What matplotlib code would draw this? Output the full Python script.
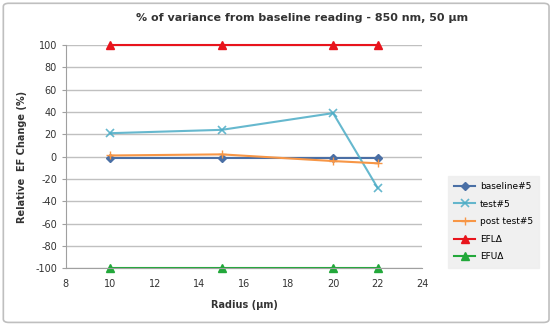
import numpy as np
import matplotlib.pyplot as plt
from matplotlib.patches import FancyBboxPatch

plt.rcParams['axes.unicode_minus'] = False

radius = [10, 15, 20, 22]
baseline = [-1, -1, -1, -1]
test = [21, 24, 39, -28]
post_test = [1, 2, -4, -6]
efl = [100, 100, 100, 100]
efu = [-100, -100, -100, -100]

fig = plt.figure(figsize=(5.54, 3.29), dpi=100)
border = FancyBboxPatch((0.006, 0.02), 0.985, 0.97, boxstyle="round,pad=0,rounding_size=0.01",
                        transform=fig.transFigure, fc='white', ec='#bfbfbf', lw=1.2, zorder=-10)
fig.patches.append(border)
ax = fig.add_axes([0.119, 0.185, 0.643, 0.678])
ax.patch.set_alpha(0)

ax.plot(radius, baseline, color='#4a6fa5', marker='D', ms=4, lw=1.5, label='baseline#5', clip_on=False)
ax.plot(radius, test, color='#4bacc6', marker='x', ms=6, mew=1.2, lw=1.5, label='test#5', alpha=0.85, clip_on=False)
ax.plot(radius, post_test, color='#f79646', marker='+', ms=6, lw=1.5, label='post test#5', clip_on=False)
ax.plot(radius, efl, color='#e8141c', marker='^', ms=5.5, lw=1.5, label='EFL\u0394', clip_on=False)
ax.plot(radius, efu, color='#22a83a', marker='^', ms=5.5, lw=1.5, label='EFU\u0394', clip_on=False)

ax.set_xlim(8, 24)
ax.set_ylim(-100, 100)
ax.set_xticks(range(8, 25, 2))
ax.set_yticks(range(-100, 101, 20))
ax.grid(axis='y', color='#c0c0c0', lw=1)
ax.set_axisbelow(True)
for s in ['top', 'right']:
    ax.spines[s].set_visible(False)
for s in ['left', 'bottom']:
    ax.spines[s].set_color('#a0a0a0')
ax.tick_params(axis='both', labelsize=7, colors='#a0a0a0', labelcolor='#333333', length=3)
ax.tick_params(axis='x', length=0, pad=8)

ax.set_xlabel('Radius (\u00b5m)', fontsize=7, fontweight='bold', color='#333333', labelpad=8)
ax.set_ylabel('Relative  EF Change (%)', fontsize=7, fontweight='bold', color='#333333', labelpad=6)
fig.text(0.545, 0.945, '% of variance from baseline reading - 850 nm, 50 \u00b5m', ha='center', va='center',
         fontsize=8, fontweight='bold', color='#333333')

leg = ax.legend(loc='upper left', bbox_to_anchor=(1.06, 0.435), fontsize=6.5, frameon=True,
                fancybox=False, handlelength=2.3, handletextpad=0.5, borderpad=0.7, labelspacing=0.95)
leg.get_frame().set_facecolor('#ededed')
leg.get_frame().set_edgecolor('#ededed')

fig.savefig('out.png', dpi=100)
